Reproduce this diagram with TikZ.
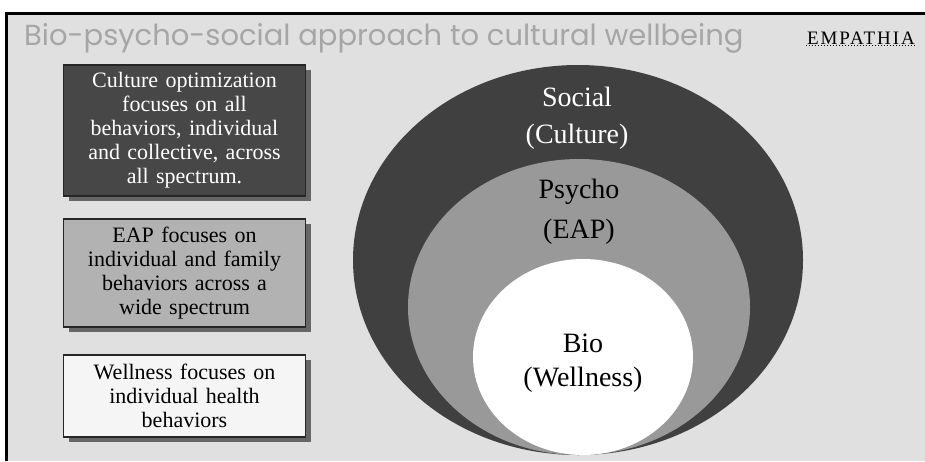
\documentclass[tikz,border=0pt]{standalone}
\usepackage{fontspec}
\setmainfont{Liberation Serif}
\newfontfamily\titlefont{Poppins}
\usetikzlibrary{shadows}

\begin{document}
\begin{tikzpicture}[x=1pt,y=-1pt,
	infobox/.style={draw=black!85, line width=1.3pt, minimum width=242pt, text width=236pt,
		align=center, inner sep=2pt, font=\fontsize{22}{24}\selectfont,
		drop shadow={shadow xshift=5pt, shadow yshift=-5pt, fill=black!60, opacity=1}},
	ringlabel/.style={inner sep=0pt, font=\fontsize{28}{30}\selectfont}]
	\useasboundingbox (0,0) rectangle (925,461);
	% slide background and frame
	\fill [white] (0,0) rectangle (925,461);
	\fill [black!12] (6,13) rectangle (925,461);
	\draw [black, line width=3pt] (6,461) -- (6,13) -- (925,13);
	\node [anchor=west, inner sep=0pt, text=black!35, font=\titlefont\fontsize{29}{32}\selectfont] (title) at (24,38) {Bio-psycho-social approach to cultural wellbeing};
	\node [anchor=east, inner sep=1pt, font=\fontsize{19}{21}\selectfont] (brand) at (916,38) {\addfontfeature{LetterSpace=10}EMPATHIA};
	\draw [dotted, line width=1pt] (brand.south west) -- (brand.south east);
	% the three boxes
	\node [infobox, fill=black!72, text=white, minimum height=131pt] (culturebox) at (184.5,130.5) {Culture optimization\\focuses on all\\behaviors, individual\\and collective, across\\all spectrum.};
	\node [infobox, fill=black!30, minimum height=108pt] (eapbox) at (184.5,273) {EAP focuses on\\individual and family\\behaviors across a\\wide spectrum};
	\node [infobox, fill=black!4, minimum height=82pt] (wellbox) at (184.5,396) {Wellness focuses on\\individual health\\behaviors};
	% nested rings
	\fill [black!75] (578,260) ellipse [x radius=225pt, y radius=195pt];
	\fill [black!40] (579,307) ellipse [x radius=171pt, y radius=148pt];
	\fill [white] (583,357) ellipse [x radius=110pt, y radius=98pt];
	\node [ringlabel, text=white] (social) at (577,97) {Social};
	\node [ringlabel, text=white] (culture) at (577,137) {(Culture)};
	\node [ringlabel] (psycho) at (579,192) {Psycho};
	\node [ringlabel] (eap) at (579,232) {(EAP)};
	\node [ringlabel] (bio) at (583,343) {Bio};
	\node [ringlabel] (wellness) at (583,380) {(Wellness)};
\end{tikzpicture}
\end{document}
